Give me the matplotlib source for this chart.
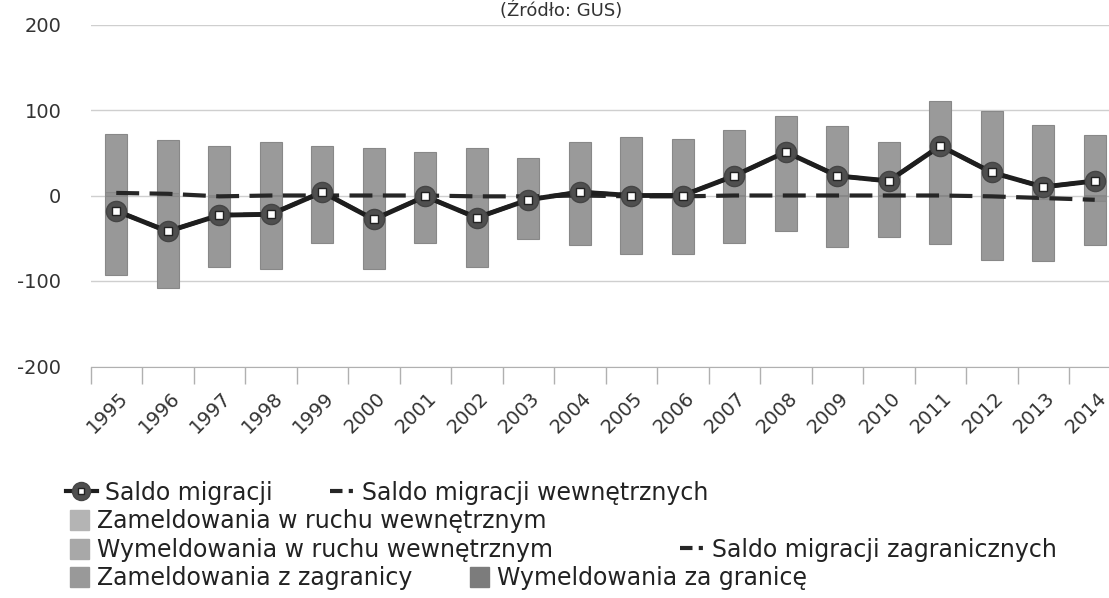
import numpy as np
import matplotlib
matplotlib.use("Agg")
import matplotlib.pyplot as plt
from matplotlib.lines import Line2D
from matplotlib.patches import Patch

plt.rcParams['font.family'] = ['DejaVu Sans']
plt.rcParams['axes.unicode_minus'] = False

# dane
lata = [str(r) for r in range(1995, 2015)]
zam_wewn = [68, 62, 57, 61, 57, 55, 50, 55, 43, 61, 68, 65, 76, 92, 80, 62, 109, 98, 82, 70]
zam_zagr = [4, 3, 1, 1, 1, 1, 1, 1, 1, 1, 1, 1, 1, 1, 1, 1, 1, 1, 1, 1]
wym_wewn = [-92, -107, -82, -85, -54, -85, -54, -82, -49, -57, -67, -67, -54, -41, -59, -48, -56, -74, -73, -52]
wym_zagr = [-1, -1, -2, -1, -1, -1, -1, -2, -2, -1, -2, -2, -1, -1, -1, -1, -1, -2, -4, -6]
saldo = [-18, -42, -23, -22, 4, -28, -1, -26, -5, 4, 0, 0, 23, 51, 23, 17, 58, 27, 10, 17]
saldo_zagr = [3, 2, -1, 0, 0, 0, 0, -1, -1, 0, -1, -1, 0, 0, 0, 0, 0, -1, -3, -5]
saldo_wewn = [-18, -42, -23, -22, 4, -28, -1, -26, -5, 4, 0, 0, 23, 51, 23, 17, 58, 27, 10, 17]

x = np.arange(len(lata))
W, H = 1109, 598

fig = plt.figure(figsize=(W / 100, H / 100), dpi=100)
ax = fig.add_axes([90.5 / W, 1 - 366.5 / H, 1030 / W, 342 / H])

# slupki
bw = 0.43
ec = "#888888"
ax.bar(x, zam_zagr, bw, color="#939393", edgecolor=ec, lw=0.8, zorder=2)
ax.bar(x, zam_wewn, bw, bottom=zam_zagr, color="#9a9a9a", edgecolor=ec, lw=0.8, zorder=2)
ax.bar(x, wym_zagr, bw, color="#8e8e8e", edgecolor=ec, lw=0.8, zorder=2)
ax.bar(x, wym_wewn, bw, bottom=wym_zagr, color="#989898", edgecolor=ec, lw=0.8, zorder=2)

# linie
ax.plot(x, saldo_wewn, color="#262626", lw=3, dashes=(5.5, 2.5), zorder=3)
ax.plot(x, saldo_zagr, color="#262626", lw=3, dashes=(5.5, 2.5), zorder=3)
ax.plot(x, saldo, color="#1e1e1e", lw=3.5, zorder=4,
        marker="o", ms=14.5, mfc="#4f4f4f", mec="#454545", mew=1)
ax.plot(x, saldo, ls="none", marker="s", ms=5.5, mfc="white", mec="#222222", mew=1, zorder=5)

# osie
ax.set_xlim(-0.5, 19.5)
ax.set_ylim(-200, 200)
ax.set_yticks([-200, -100, 0, 100, 200])
ax.set_yticklabels(["-200", "-100", "0", "100", "200"])
ax.grid(axis="y", color="#cfcfcf", lw=1, zorder=0)
for s in ["top", "right", "left"]:
    ax.spines[s].set_visible(False)
ax.spines["bottom"].set_color("#b0b0b0")
ax.tick_params(axis="y", length=0, labelsize=14, labelcolor="#333333", pad=21)

ax.set_xticks(x - 0.5)
ax.set_xticklabels([])
ax.tick_params(axis="x", which="major", length=12, color="#b0b0b0", width=1)
ax.set_xticks(x + 0.04, minor=True)
ax.set_xticklabels(lata, minor=True, rotation=45, ha="right", va="top",
                   rotation_mode="anchor", fontsize=14, color="#333333")
ax.tick_params(axis="x", which="minor", length=0, pad=16)

fig.text(561 / W, 1 - 1 / H, "(Źródło: GUS)", ha="center", va="top",
         fontsize=13, color="#333333")

# legenda
h_saldo = (Line2D([], [], color="#1e1e1e", lw=3, marker="o", ms=13, mfc="#4f4f4f", mec="#454545"),
           Line2D([], [], ls="none", marker="s", ms=4.5, mfc="white", mec="#222222"))
h_dash = Line2D([], [], color="#262626", lw=3, ls=(0, (3, 1.5, 1, 1.5)),
                dash_capstyle="butt")

items = [
    (h_saldo, "Saldo migracji", 66, 493, 1.3),
    (h_dash, "Saldo migracji wewnętrznych", 330, 493, 1.0),
    (Patch(color="#b4b4b4"), "Zameldowania w ruchu wewnętrznym", 70, 521, 0.8),
    (Patch(color="#a8a8a8"), "Wymeldowania w ruchu wewnętrznym", 70, 550, 0.8),
    (h_dash, "Saldo migracji zagranicznych", 680, 550, 1.0),
    (Patch(color="#999999"), "Zameldowania z zagranicy", 70, 578, 0.8),
    (Patch(color="#7c7c7c"), "Wymeldowania za granicę", 470, 578, 0.8),
]
for h, lab, px, py, hl in items:
    fig.legend([h], [lab], loc="center left", bbox_to_anchor=(px / W, 1 - py / H),
               frameon=False, fontsize=17, handlelength=hl, handleheight=0.95,
               handletextpad=0.35, borderpad=0, borderaxespad=0,
               labelcolor="#222222")

fig.savefig("out.png", dpi=100)
